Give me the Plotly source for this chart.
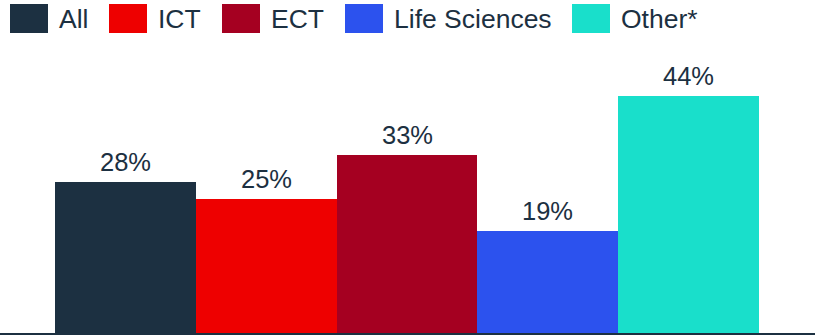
import plotly.graph_objects as go

# Share of each group, in percent
categories = ["All", "ICT", "ECT", "Life Sciences", "Other*"]
values = [28, 25, 33, 19, 44]
colors = ["#1c3041", "#ee0000", "#a50021", "#2c52ee", "#19dfcb"]

W, H = 815, 335
M_TOP, M_BOT = 64, 2
TEXT = "#1c3041"
FONT = "Liberation Sans, Arial, sans-serif"

fig = go.Figure(
    go.Bar(
        x=list(range(len(categories))),
        y=values,
        marker=dict(color=colors, line=dict(width=0)),
        hoverinfo="skip",
    )
)

# Value labels above the bars
for i, v in enumerate(values):
    fig.add_annotation(
        x=i, y=v, text=f"{v}%", showarrow=False,
        xanchor="center", yanchor="bottom", yshift=4,
        font=dict(family=FONT, size=25.5, color=TEXT),
    )

# Legend drawn as swatches + labels along the top
plot_h = H - M_TOP - M_BOT
def py(p):  # pixel row -> paper y
    return (H - M_BOT - p) / plot_h

swatch_x = [10, 109, 222, 345, 572]
sw_w, sw_top, sw_bot = 38, 4, 33
for name, col, x0 in zip(categories, colors, swatch_x):
    fig.add_shape(
        type="rect", xref="paper", yref="paper",
        x0=x0 / W, x1=(x0 + sw_w) / W, y0=py(sw_bot), y1=py(sw_top),
        fillcolor=col, line=dict(width=0),
    )
    fig.add_annotation(
        xref="paper", yref="paper", x=(x0 + sw_w + 9) / W, y=py((sw_top + sw_bot) / 2 + 1),
        text=name, showarrow=False, xanchor="left", yanchor="middle",
        font=dict(family=FONT, size=26.5, color=TEXT),
    )

n = len(categories)
bar_px = 140.8
left_units = 55 / bar_px
right_units = (W - 759) / bar_px

fig.update_layout(
    width=W, height=H,
    margin=dict(l=0, r=0, t=M_TOP, b=M_BOT),
    paper_bgcolor="white", plot_bgcolor="white",
    bargap=0, showlegend=False,
    xaxis=dict(
        range=[-0.5 - left_units, n - 0.5 + right_units],
        showticklabels=False, ticks="", showgrid=False, zeroline=False,
        showline=True, linecolor="#1c3041", linewidth=2,
    ),
    yaxis=dict(
        range=[0, 50], showticklabels=False, ticks="",
        showgrid=False, zeroline=False, showline=False,
    ),
)

fig.write_html("out.html")
